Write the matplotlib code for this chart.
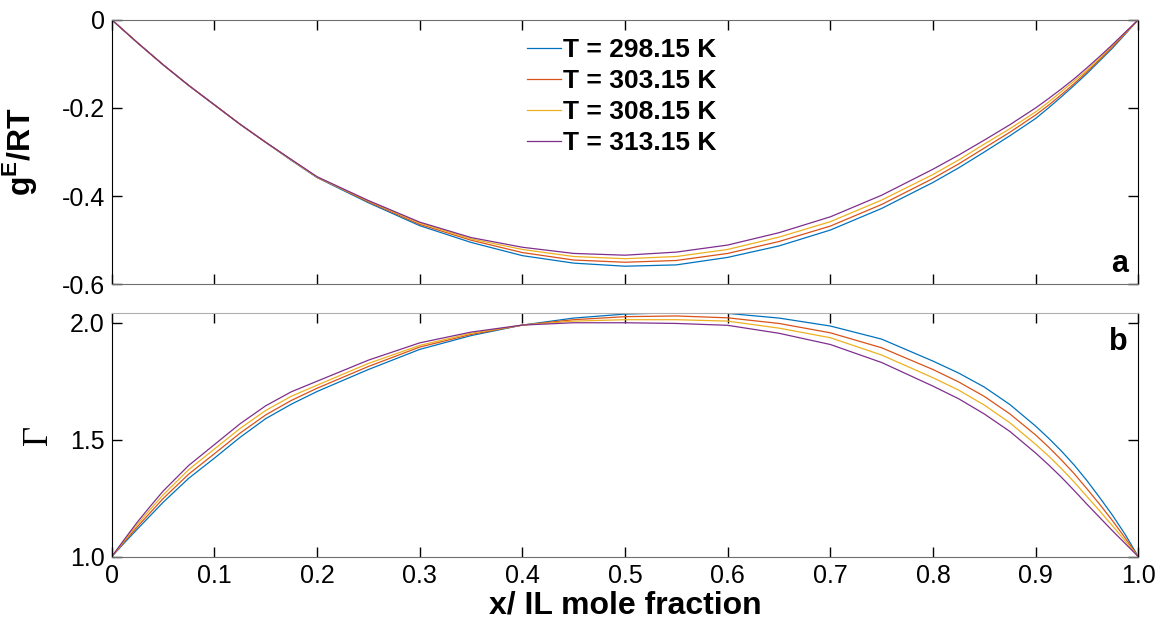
#Two-panel plot: excess Gibbs energy and thermodynamic factor vs IL mole fraction
import matplotlib
matplotlib.use('Agg')
import matplotlib.pyplot as plt

##########################################
#Data
x = [0, 0.0125, 0.025, 0.0375, 0.05, 0.075, 0.1, 0.125, 0.15, 0.175, 0.2,
	0.25, 0.3, 0.35, 0.4, 0.45, 0.5, 0.55, 0.6, 0.65, 0.7, 0.75,
	0.8, 0.825, 0.85, 0.875, 0.9, 0.9125, 0.925, 0.9375, 0.95, 0.9625, 0.975, 0.9875, 1.0]

temps = ['T = 298.15 K', 'T = 303.15 K', 'T = 308.15 K', 'T = 313.15 K']

gE_298 = [0, -0.026, -0.052, -0.077, -0.102, -0.149, -0.193, -0.237, -0.278, -0.319, -0.358,
	-0.415, -0.467, -0.505, -0.535, -0.552, -0.559, -0.556, -0.539, -0.513, -0.477, -0.428,
	-0.369, -0.336, -0.300, -0.263, -0.224, -0.200, -0.175, -0.149, -0.122, -0.093, -0.064, -0.032, 0]
gE_303 = [0, -0.026, -0.052, -0.077, -0.102, -0.149, -0.193, -0.237, -0.278, -0.318, -0.357,
	-0.413, -0.464, -0.500, -0.528, -0.545, -0.550, -0.546, -0.530, -0.503, -0.468, -0.419,
	-0.360, -0.327, -0.291, -0.255, -0.216, -0.194, -0.170, -0.145, -0.118, -0.090, -0.061, -0.031, 0]
gE_308 = [0, -0.026, -0.052, -0.077, -0.102, -0.149, -0.193, -0.237, -0.278, -0.318, -0.357,
	-0.411, -0.461, -0.497, -0.521, -0.537, -0.542, -0.537, -0.521, -0.493, -0.458, -0.409,
	-0.351, -0.318, -0.282, -0.247, -0.209, -0.187, -0.163, -0.139, -0.114, -0.087, -0.058, -0.029, 0]
gE_313 = [0, -0.026, -0.052, -0.077, -0.102, -0.149, -0.193, -0.237, -0.278, -0.317, -0.356,
	-0.410, -0.459, -0.494, -0.516, -0.530, -0.534, -0.527, -0.511, -0.483, -0.447, -0.398,
	-0.339, -0.307, -0.273, -0.238, -0.200, -0.179, -0.157, -0.134, -0.109, -0.083, -0.056, -0.028, 0]

gam_298 = [1.0, 1.06, 1.118, 1.175, 1.232, 1.335, 1.421, 1.51, 1.59, 1.652, 1.706,
	1.80, 1.886, 1.945, 1.99, 2.02, 2.037, 2.043, 2.04, 2.02, 1.986, 1.93,
	1.836, 1.785, 1.725, 1.65, 1.558, 1.507, 1.452, 1.392, 1.325, 1.252, 1.176, 1.093, 1.0]
gam_303 = [1.0, 1.065, 1.128, 1.188, 1.248, 1.353, 1.44, 1.528, 1.606, 1.668, 1.72,
	1.813, 1.896, 1.95, 1.99, 2.013, 2.026, 2.029, 2.021, 1.997, 1.957, 1.893,
	1.80, 1.747, 1.685, 1.61, 1.52, 1.469, 1.414, 1.355, 1.29, 1.223, 1.153, 1.078, 1.0]
gam_308 = [1.0, 1.07, 1.138, 1.202, 1.264, 1.372, 1.46, 1.548, 1.625, 1.686, 1.733,
	1.826, 1.903, 1.955, 1.99, 2.007, 2.013, 2.013, 2.007, 1.977, 1.936, 1.862,
	1.765, 1.712, 1.648, 1.572, 1.48, 1.431, 1.377, 1.319, 1.257, 1.195, 1.131, 1.066, 1.0]
gam_313 = [1.0, 1.075, 1.148, 1.215, 1.28, 1.39, 1.479, 1.568, 1.645, 1.705, 1.75,
	1.84, 1.914, 1.96, 1.99, 2.0, 2.0, 1.997, 1.989, 1.955, 1.907, 1.83,
	1.729, 1.675, 1.61, 1.535, 1.443, 1.393, 1.34, 1.283, 1.224, 1.167, 1.11, 1.055, 1.0]

xticks = [0, 0.1, 0.2, 0.3, 0.4, 0.5, 0.6, 0.7, 0.8, 0.9, 1.0]
xticklabels = ['0', '0.1', '0.2', '0.3', '0.4', '0.5', '0.6', '0.7', '0.8', '0.9', '1.0']

##########################################
#Style
line_color = ['#0072BD', '#D95319', '#EDB120', '#7E2F8E']
line_thickness = 0.9
font_name = ['Liberation Sans', 'DejaVu Sans']
plt.rcParams['font.family'] = font_name
plt.rcParams['axes.unicode_minus'] = False
plt.rcParams['mathtext.fontset'] = 'custom'
plt.rcParams['mathtext.rm'] = 'Liberation Sans:bold'
plt.rcParams['mathtext.bf'] = 'Liberation Sans:bold'

fig = plt.figure(figsize=[11.6, 6.24], dpi=100)
ax_a = fig.add_axes([0.0963, 0.5444, 0.885, 0.424])
ax_b = fig.add_axes([0.0963, 0.1079, 0.885, 0.391])

def style_axis(ax):
	ax.tick_params(direction='in', length=7.5, width=1, top=True, right=True, labelsize=18, pad=5)
	for side in ['left', 'right']:
		ax.spines[side].set_color('black')
	for side in ['top', 'bottom']:
		ax.spines[side].set_color('#6e6e6e')
	ax.set_xlim(0, 1)
	ax.set_xticks(xticks)

##########################################
#Panel a
for gE, col, lab in zip([gE_298, gE_303, gE_308, gE_313], line_color, temps):
	ax_a.plot(x, gE, color=col, lw=line_thickness, label=lab)
style_axis(ax_a)
ax_a.set_ylim(-0.6, 0)
ax_a.set_yticks([-0.6, -0.4, -0.2, 0])
ax_a.set_yticklabels(['-0.6', '-0.4', '-0.2', '0'])
ax_a.set_xticklabels([])
ax_a.set_ylabel(r'g$^{\mathrm{E}}$/RT', fontsize=23, fontweight='bold')
ax_a.yaxis.set_label_coords(-0.071, 0.5)
ax_a.text(0.99, 0.02, 'a', transform=ax_a.transAxes, ha='right', va='bottom', fontsize=22, fontweight='bold')
ax_a.legend(loc='upper left', bbox_to_anchor=(0.4045, 0.93), frameon=False, prop={'size': 19, 'weight': 'bold'},
	handlelength=1.3, handletextpad=0.05, labelspacing=0.26, borderpad=0, borderaxespad=0)

##########################################
#Panel b
for gam, col in zip([gam_298, gam_303, gam_308, gam_313], line_color):
	ax_b.plot(x, gam, color=col, lw=line_thickness)
style_axis(ax_b)
ax_b.spines['top'].set_color('#b0b0b0')
ax_b.set_ylim(1.0, 2.043)
ax_b.set_yticks([1.0, 1.5, 2.0])
ax_b.set_yticklabels(['1.0', '1.5', '2.0'])
ax_b.set_xticklabels(xticklabels)
ax_b.set_ylabel('Γ', fontsize=25, family='Liberation Serif')
ax_b.yaxis.set_label_coords(-0.055, 0.5)
ax_b.set_xlabel('x/ IL mole fraction', fontsize=23, fontweight='bold')
ax_b.xaxis.set_label_coords(0.5, -0.138)
ax_b.text(0.99, 0.94, 'b', transform=ax_b.transAxes, ha='right', va='top', fontsize=22, fontweight='bold')

#Save
plt.savefig('out.png', dpi=100)
plt.close()
